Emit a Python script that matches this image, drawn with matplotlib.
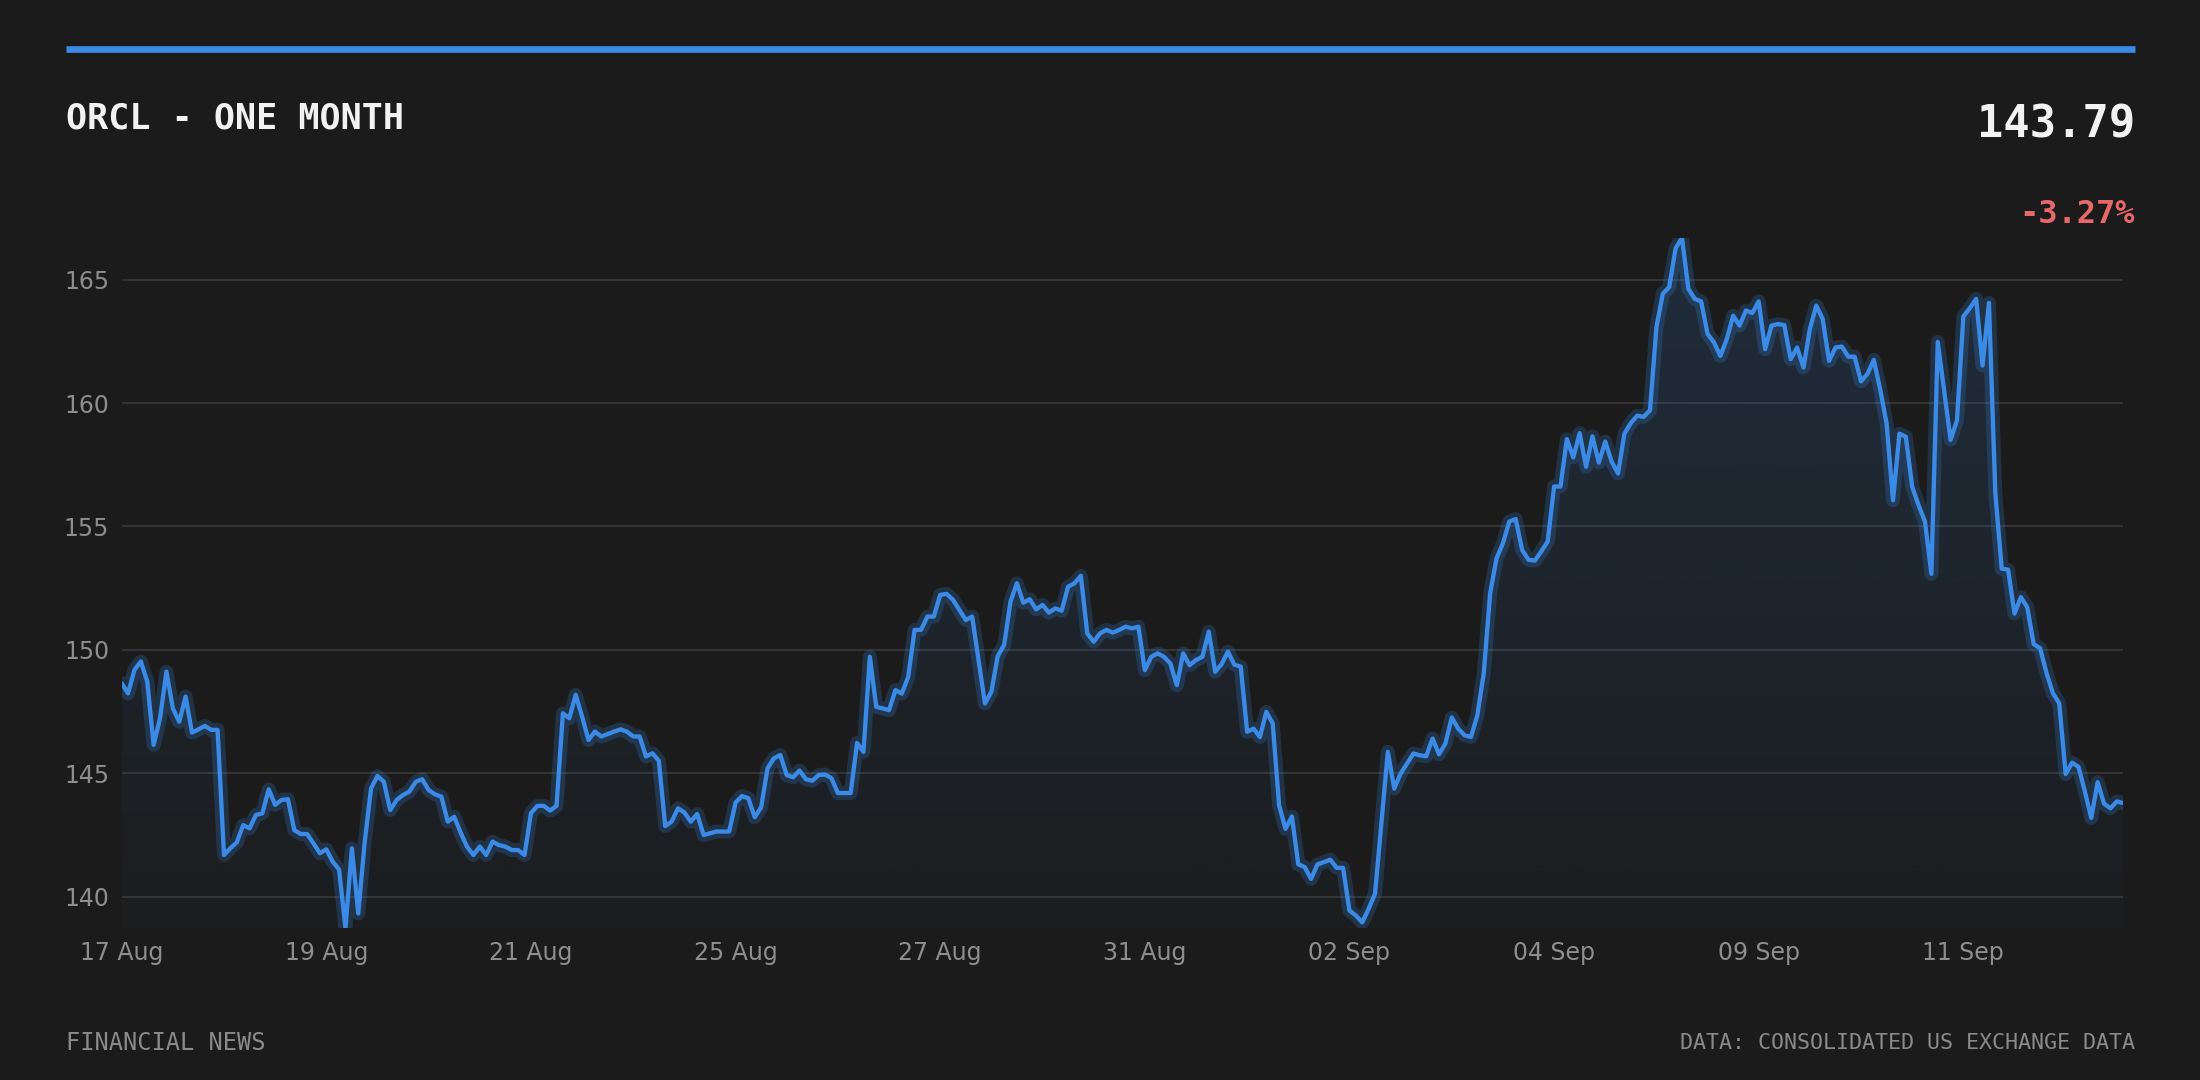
import numpy as np
import matplotlib
matplotlib.use("Agg")
import matplotlib.pyplot as plt
from matplotlib.lines import Line2D

# ---------------- data ----------------
title_text = "ORCL - ONE MONTH"
last_price_text = "143.79"
change_text = "-3.27%"
footer_left = "FINANCIAL NEWS"
footer_right = "DATA: CONSOLIDATED US EXCHANGE DATA"

tick_labels = ["17 Aug", "19 Aug", "21 Aug", "25 Aug", "27 Aug",
               "31 Aug", "02 Sep", "04 Sep", "09 Sep", "11 Sep"]
tick_index = [0, 32, 64, 96, 128, 160, 192, 224, 256, 288]
y_ticks = [140, 145, 150, 155, 160, 165]

prices_a = [
    148.65, 148.24, 149.19, 149.53, 148.72, 146.15, 147.23, 149.12, 147.64, 147.09,
    148.11, 146.65, 146.78, 146.92, 146.76, 146.76, 141.69, 141.96, 142.20, 142.90,
    142.77, 143.31, 143.38, 144.35, 143.72, 143.92, 143.95, 142.70, 142.54, 142.54,
    142.16, 141.76, 141.92, 141.42, 141.10, 138.73, 141.96, 139.32, 142.20, 144.39,
    144.89, 144.66, 143.51, 143.92, 144.12, 144.26, 144.66, 144.76, 144.32, 144.15,
    144.05, 143.04, 143.24, 142.60, 142.03, 141.69, 142.03, 141.69, 142.23, 142.09,
    142.03, 141.89, 141.89, 141.69, 143.38, 143.68, 143.68, 143.49, 143.68, 147.43,
    147.23, 148.18, 147.30, 146.35, 146.69, 146.49, 146.59, 146.69, 146.78, 146.69,
    146.49, 146.49, 145.68, 145.81, 145.51, 142.86, 143.04, 143.58, 143.41, 143.04,
    143.35, 142.50, 142.57, 142.64, 142.64, 142.64, 143.81, 144.08, 143.99, 143.22,
    143.62, 145.20, 145.61, 145.74, 144.93, 144.84, 145.11, 144.76, 144.70, 144.93,
]
prices_b = [
    144.95, 144.80, 144.20, 144.20, 144.20, 146.23, 145.87, 149.72, 147.69, 147.63,
    147.56, 148.37, 148.23, 148.91, 150.81, 150.81, 151.35, 151.35, 152.23, 152.27,
    152.03, 151.62, 151.21, 151.35, 149.59, 147.83, 148.30, 149.75, 150.20, 151.96,
    152.70, 151.91, 152.05, 151.64, 151.82, 151.51, 151.68, 151.59, 152.56, 152.70,
    153.00, 150.67, 150.33, 150.67, 150.81, 150.70, 150.81, 150.94, 150.87, 150.94,
    149.18, 149.72, 149.86, 149.72, 149.45, 148.57, 149.86, 149.38, 149.59, 149.72,
    150.74, 149.11, 149.42, 149.93, 149.40, 149.32, 146.68, 146.81, 146.47, 147.49,
    147.02, 143.70, 142.75, 143.25, 141.31, 141.20, 140.72, 141.31, 141.40, 141.50,
    141.17, 141.17, 139.44, 139.24, 138.96, 139.51, 140.12, 143.00, 145.87, 144.38,
    144.99, 145.39, 145.80, 145.73, 145.69, 146.41, 145.77, 146.20, 147.26, 146.81,
]
prices_c = [
    146.54, 146.47, 147.35, 149.05, 152.29, 153.71, 154.32, 155.20, 155.30, 154.05,
    153.65, 153.62, 153.99, 154.39, 156.62, 156.62, 158.54, 157.80, 158.78, 157.42,
    158.65, 157.59, 158.44, 157.63, 157.15, 158.76, 159.19, 159.49, 159.44, 159.71,
    163.07, 164.43, 164.70, 166.27, 166.70, 164.63, 164.22, 164.12, 162.80, 162.46,
    161.91, 162.59, 163.54, 163.14, 163.75, 163.65, 164.12, 162.18, 163.14, 163.20,
    163.16, 161.78, 162.25, 161.44, 163.00, 163.95, 163.41, 161.71, 162.25, 162.29,
    161.88, 161.88, 160.88, 161.18, 161.75, 160.55, 159.17, 156.06, 158.76, 158.64,
    156.61, 155.86, 155.20, 153.08, 162.48, 160.50, 158.51, 159.30, 163.51, 163.84,
    164.22, 161.52, 164.06, 156.36, 153.29, 153.25, 151.47, 152.14, 151.72, 150.23,
    150.07, 149.07, 148.25, 147.83, 144.97, 145.43, 145.26, 144.27, 143.19, 144.64,
    143.77, 143.58, 143.86, 143.79,
]
prices = np.array(prices_a + prices_b + prices_c)

# ---------------- style ----------------
BG = "#1b1b1b"
BLUE = "#3b8ae6"
GRID = "#333333"
TICK = "#8e8e8e"
WHITE = "#f2f2f2"
RED = "#e6696a"
MONO = "DejaVu Sans Mono"

fig = plt.figure(figsize=(22, 10.8), dpi=100, facecolor=BG)
ax = fig.add_axes([0.0553, 0.1407, 0.9098, 0.6392])
ax.set_facecolor(BG)

x = np.arange(len(prices))
ymin, ymax = prices.min(), prices.max()
ax.set_xlim(x[0], x[-1])
ax.set_ylim(ymin, ymax)

# gradient fill under the line
n = 256
alpha = np.linspace(0.02, 0.16, n)
rgb = matplotlib.colors.to_rgb(BLUE)
img = np.zeros((n, 1, 4))
img[:, 0, 0], img[:, 0, 1], img[:, 0, 2] = rgb
img[:, 0, 3] = alpha
im = ax.imshow(img, extent=[x[0], x[-1], ymin, ymax], origin="lower",
               aspect="auto", zorder=1, interpolation="bilinear")
poly = ax.fill_between(x, prices, ymin, color="none", lw=0)
im.set_clip_path(poly.get_paths()[0], transform=ax.transData)

# glow + line
ax.plot(x, prices, color=BLUE, lw=10, alpha=0.21, zorder=3,
        solid_joinstyle="round", solid_capstyle="round")
ax.plot(x, prices, color=BLUE, lw=3.1, zorder=4,
        solid_joinstyle="round", solid_capstyle="round")

# grid / ticks
ax.set_yticks(y_ticks)
ax.set_xticks(tick_index)
ax.set_xticklabels(tick_labels)
ax.yaxis.grid(True, color=GRID, lw=1.5, zorder=0)
ax.xaxis.grid(False)
ax.set_axisbelow(True)
for s in ax.spines.values():
    s.set_visible(False)
ax.tick_params(axis="both", length=0, colors=TICK, labelsize=17)
ax.tick_params(axis="x", pad=9)
ax.tick_params(axis="y", pad=9)

# header
fig.add_artist(Line2D([0.030, 0.9705], [0.9543, 0.9543], lw=4.8,
                      color=BLUE, solid_capstyle="butt"))
fig.text(0.030, 0.8806, title_text, family=MONO, weight="bold",
         fontsize=25.2, color=WHITE, ha="left", va="baseline")
fig.text(0.9705, 0.873, last_price_text, family=MONO, weight="bold",
         fontsize=31.5, color=WHITE, ha="right", va="baseline")
fig.text(0.9705, 0.7938, change_text, family=MONO, weight="bold",
         fontsize=23, color=RED, ha="right", va="baseline")

# footer
fig.text(0.030, 0.0347, footer_left, family=MONO, fontsize=17,
         color="#8a8a8a", ha="left", va="center")
fig.text(0.9705, 0.0347, footer_right, family=MONO, fontsize=15.6,
         color="#8a8a8a", ha="right", va="center")

fig.savefig("out.png", dpi=100, facecolor=BG)
